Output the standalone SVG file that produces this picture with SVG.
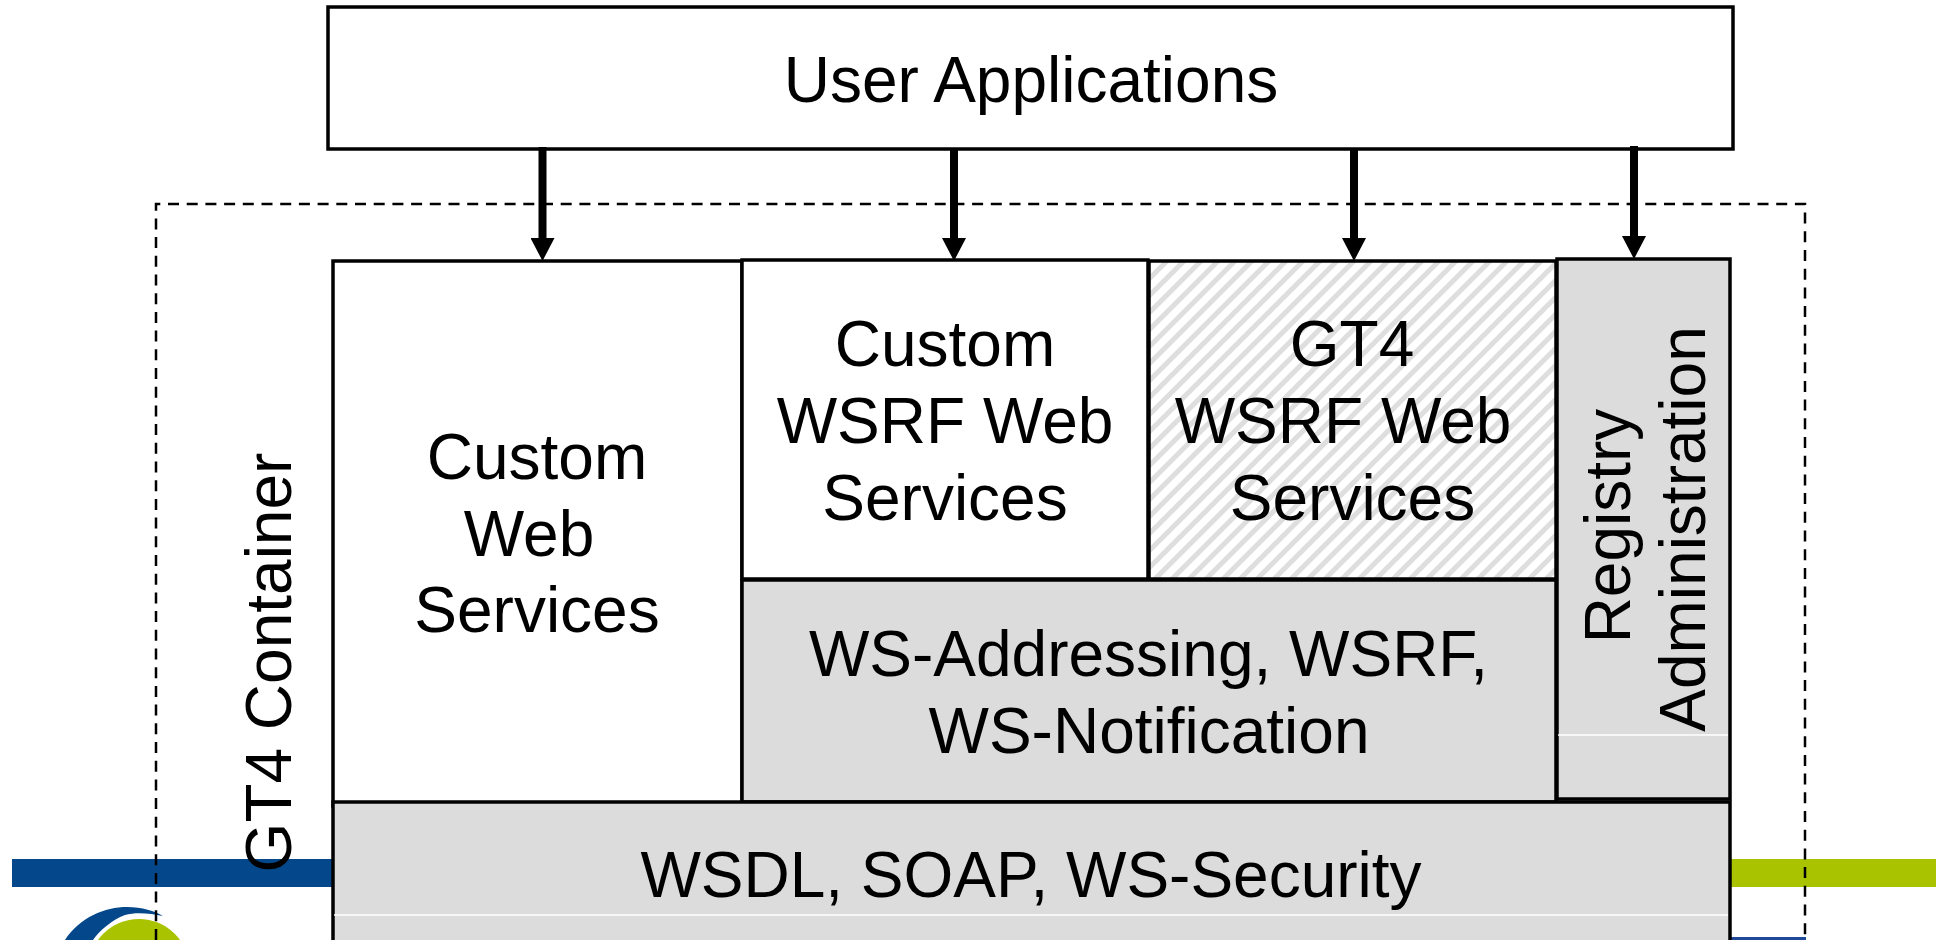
<svg xmlns="http://www.w3.org/2000/svg" width="1936" height="940" viewBox="0 0 1936 940">
<style>
text{font-family:"Liberation Sans",Arial,sans-serif;font-size:64px;fill:#000;text-anchor:middle}
.box{stroke:#000;stroke-width:3.5}
.gray{fill:#dcdcdc}
.white{fill:#fff}
.seam{stroke:#fff;stroke-width:1.5;fill:none}
.dash{fill:none;stroke:#000;stroke-width:2.5;stroke-dasharray:11 7.7}
.arrow{stroke:#000;stroke-width:8;fill:none;marker-end:url(#head)}
</style>
<defs>
<marker id="head" markerUnits="userSpaceOnUse" markerWidth="24" markerHeight="24" refX="2" refY="12" orient="auto"><path d="M0 0L23 12L0 24Z" fill="#000"/></marker>
<pattern id="hatch" patternUnits="userSpaceOnUse" width="17" height="17"><rect width="17" height="17" fill="#fff"/><path d="M-4 4L4 -4M0 17L17 0M13 21L21 13" stroke="#dedede" stroke-width="5"/></pattern>
</defs>
<rect width="1936" height="940" fill="#fff"/>
<g id="footer">
<rect x="12" y="859" width="322" height="28" fill="#04478a"/>
<rect x="1728" y="859" width="208" height="28" fill="#a9c300"/>
<rect x="1728" y="937" width="78" height="3" fill="#1f4a9a"/>
<g id="logo">
<path d="M65 940C80 917 105 907 127 907C142 907 155 911 163 916C150 913 135 912 125 915C112 920 100 930 93 940Z" fill="#04478a"/>
<circle cx="139" cy="969.500" r="50.500" fill="#a9c300"/>
</g>
</g>
<g id="container"><path class="dash" d="M156 940V204H1805V940"/></g>
<g id="user-applications"><rect class="box white" x="328" y="7" width="1405" height="142"/><text x="1031" y="102">User Applications</text></g>
<g id="custom-web-services"><rect class="box white" x="333" y="261" width="409" height="545"/><text x="537" y="479">Custom</text><text x="529" y="556">Web</text><text x="537" y="632">Services</text></g>
<g id="custom-wsrf"><rect class="box white" x="742" y="260" width="406" height="319"/><text x="945" y="366">Custom</text><text x="945" y="443">WSRF Web</text><text x="945" y="520">Services</text></g>
<g id="gt4-wsrf"><rect class="box" fill="url(#hatch)" x="1149" y="261" width="407" height="318"/><text x="1352" y="366">GT4</text><text x="1343" y="443">WSRF Web</text><text x="1352.500" y="520">Services</text></g>
<g id="ws-addressing"><rect class="box gray" x="742" y="580" width="814" height="222"/><text x="1148.500" y="676">WS-Addressing, WSRF,</text><text x="1149" y="753">WS-Notification</text></g>
<g id="registry"><rect class="box gray" x="1557" y="259" width="173" height="540"/><path class="seam" d="M1558 735H1728"/><text transform="translate(1630 526) rotate(-90)">Registry</text><text transform="translate(1705 529) rotate(-90)">Administration</text></g>
<g id="wsdl"><rect class="box gray" x="333" y="802" width="1397" height="160"/><path class="seam" d="M334 915H1728"/><text x="1031" y="897">WSDL, SOAP, WS-Security</text></g>
<g id="container-label"><text transform="translate(291 662.500) rotate(-90)">GT4 Container</text></g>
<g id="connectors">
<path class="arrow" d="M542.500 147V240"/>
<path class="arrow" d="M954 148V240"/>
<path class="arrow" d="M1354 149V240"/>
<path class="arrow" d="M1634 146V238"/>
</g>
</svg>
